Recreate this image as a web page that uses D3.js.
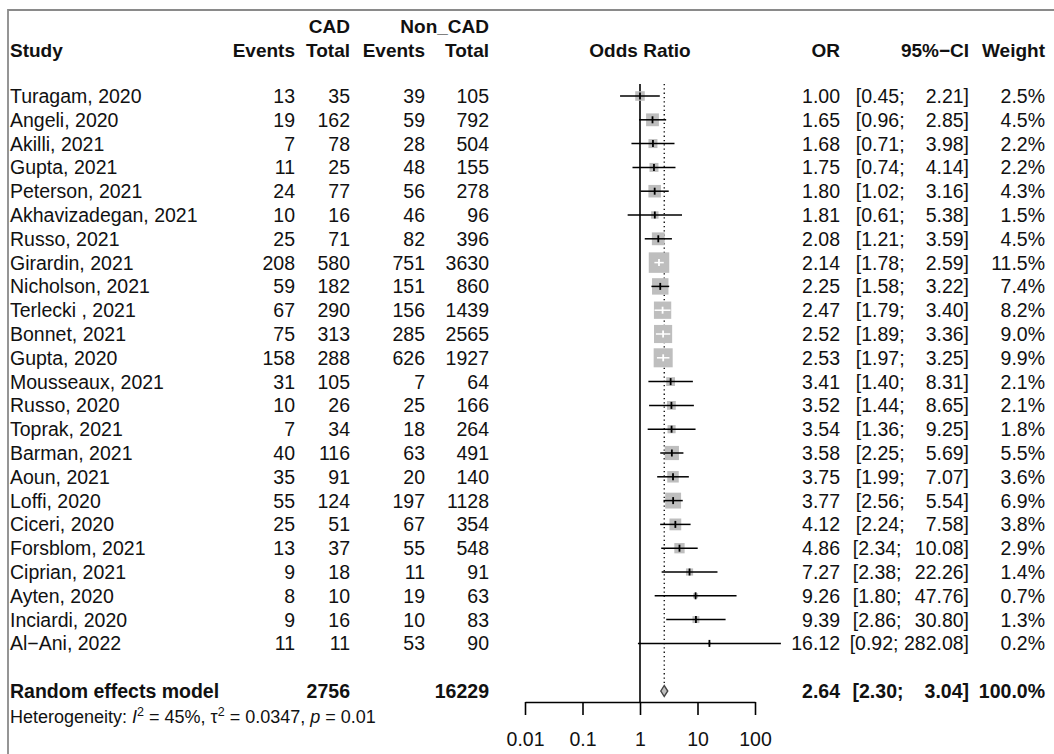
<!DOCTYPE html>
<html><head><meta charset="utf-8">
<script src="https://cdn.jsdelivr.net/npm/d3@7"></script>
<style>
html,body{margin:0;padding:0;background:#fff;}
text{font-family:"Liberation Sans",Arial,sans-serif;fill:#111;}
</style></head>
<body><svg id="chart" width="1054" height="754"></svg>
<script>
const studies = ["Turagam, 2020","Angeli, 2020","Akilli, 2021","Gupta, 2021","Peterson, 2021","Akhavizadegan, 2021","Russo, 2021","Girardin, 2021","Nicholson, 2021","Terlecki , 2021","Bonnet, 2021","Gupta, 2020","Mousseaux, 2021","Russo, 2020","Toprak, 2021","Barman, 2021","Aoun, 2021","Loffi, 2020","Ciceri, 2020","Forsblom, 2021","Ciprian, 2021","Ayten, 2020","Inciardi, 2020","Al\u2212Ani, 2022"];
const cadEvents = [13,19,7,11,24,10,25,208,59,67,75,158,31,10,7,40,35,55,25,13,9,8,9,11];
const cadTotal  = [35,162,78,25,77,16,71,580,182,290,313,288,105,26,34,116,91,124,51,37,18,10,16,11];
const nonEvents = [39,59,28,48,56,46,82,751,151,156,285,626,7,25,18,63,20,197,67,55,11,19,10,53];
const nonTotal  = [105,792,504,155,278,96,396,3630,860,1439,2565,1927,64,166,264,491,140,1128,354,548,91,63,83,90];
const orVals    = [1.00,1.65,1.68,1.75,1.80,1.81,2.08,2.14,2.25,2.47,2.52,2.53,3.41,3.52,3.54,3.58,3.75,3.77,4.12,4.86,7.27,9.26,9.39,16.12];
const ciLow     = [0.45,0.96,0.71,0.74,1.02,0.61,1.21,1.78,1.58,1.79,1.89,1.97,1.40,1.44,1.36,2.25,1.99,2.56,2.24,2.34,2.38,1.80,2.86,0.92];
const ciHigh    = [2.21,2.85,3.98,4.14,3.16,5.38,3.59,2.59,3.22,3.40,3.36,3.25,8.31,8.65,9.25,5.69,7.07,5.54,7.58,10.08,22.26,47.76,30.80,282.08];
const weights   = [2.5,4.5,2.2,2.2,4.3,1.5,4.5,11.5,7.4,8.2,9.0,9.9,2.1,2.1,1.8,5.5,3.6,6.9,3.8,2.9,1.4,0.7,1.3,0.2];
const pooledLabel = "Random effects model";
const pooledCadTotal = 2756;
const pooledNonTotal = 16229;
const pooledOR = 2.64, pooledLow = 2.30, pooledHigh = 3.04, pooledWeight = 100.0;
const tickValues = [0.01,0.1,1,10,100];
const tickLabels = ["0.01","0.1","1","10","100"];

const svg = d3.select("#chart");
svg.append("rect").attr("width",1054).attr("height",754).attr("fill","#fff");
// frame (top + left)
svg.append("path").attr("d","M8,754 L8,10 L1054,10").attr("fill","none").attr("stroke","#8a8a8a").attr("stroke-width",1.8);

const FS = 19.5, FH = 19;
const x = d3.scaleLog().domain([0.01,100]).range([525,755]);
const y = d3.scaleLinear().domain([0,studies.length-1]).range([96,643.4]);
const yPooled = 691;
const off = 7;

const col = {study:10, ev1:295, tot1:350, ev2:425, tot2:489, or:840, ci:969, w:1045};

function txt(xp, yp, s, anchor, bold, size){
  return svg.append("text").attr("x",xp).attr("y",yp).attr("text-anchor",anchor||"start")
    .attr("font-size",size||FS).attr("font-weight",bold?"bold":"normal").text(s);
}
// headers
txt(col.tot1,33,"CAD","end",true,FH);
txt(col.tot2,33,"Non_CAD","end",true,FH);
txt(col.study,57,"Study","start",true,FH);
txt(col.ev1,57,"Events","end",true,FH);
txt(col.tot1,57,"Total","end",true,FH);
txt(col.ev2,57,"Events","end",true,FH);
txt(col.tot2,57,"Total","end",true,FH);
txt(x(1),57,"Odds Ratio","middle",true,FH);
txt(col.or,57,"OR","end",true,FH);
txt(col.ci,57,"95%\u2212CI","end",true,FH);
txt(col.w,57,"Weight","end",true,FH);

const upW = d3.max(ciHigh.concat([pooledHigh]), v=>v.toFixed(2).length);
function ci(yy, lo, hi, bold){
  const h = hi.toFixed(2);
  const up = txt(col.ci, yy, h + "]", "end", bold);
  const wUp = up.node().getComputedTextLength();
  const gap = FS*0.28 + (upW - h.length)*FS*0.4;
  txt(col.ci - wUp - gap, yy, "[" + lo.toFixed(2) + ";", "end", bold);
}

studies.forEach((s,i)=>{
  const yy = y(i)+off;
  txt(col.study,yy,s);
  txt(col.ev1,yy,cadEvents[i],"end");
  txt(col.tot1,yy,cadTotal[i],"end");
  txt(col.ev2,yy,nonEvents[i],"end");
  txt(col.tot2,yy,nonTotal[i],"end");
  txt(col.or,yy,orVals[i].toFixed(2),"end");
  ci(yy, ciLow[i], ciHigh[i], false);
  txt(col.w,yy,weights[i].toFixed(1)+"%","end");
});
// pooled
txt(col.study,yPooled+off,pooledLabel,"start",true);
txt(col.tot1,yPooled+off,pooledCadTotal,"end",true);
txt(col.tot2,yPooled+off,pooledNonTotal,"end",true);
txt(col.or,yPooled+off,pooledOR.toFixed(2),"end",true);
ci(yPooled+off, pooledLow, pooledHigh, true);
txt(col.w,yPooled+off,pooledWeight.toFixed(1)+"%","end",true);

// heterogeneity
const het = svg.append("text").attr("x",col.study).attr("y",723).attr("font-size",18);
het.append("tspan").text("Heterogeneity: ");
het.append("tspan").attr("font-style","italic").text("I");
het.append("tspan").attr("font-size",12.5).attr("dy",-7).text("2");
het.append("tspan").attr("dy",7).text(" = 45%, \u03c4");
het.append("tspan").attr("font-size",12.5).attr("dy",-7).text("2");
het.append("tspan").attr("dy",7).text(" = 0.0347, ");
het.append("tspan").attr("font-style","italic").text("p");
het.append("tspan").text(" = 0.01");

// reference line at 1
svg.append("line").attr("x1",x(1)).attr("x2",x(1)).attr("y1",84).attr("y2",702)
  .attr("stroke","#000").attr("stroke-width",1.6);
// dotted pooled line
svg.append("line").attr("x1",x(pooledOR)).attr("x2",x(pooledOR)).attr("y1",84).attr("y2",yPooled-6)
  .attr("stroke","#000").attr("stroke-width",1.3).attr("stroke-dasharray","1.3,3");

// squares and CIs
const maxW = d3.max(weights);
const side = d3.scaleSqrt().domain([0,maxW]).range([0,20.5]);
const g = svg.append("g");
studies.forEach((s,i)=>{
  const cy = y(i), cx = x(orVals[i]), sz = side(weights[i]);
  g.append("rect").attr("x",cx-sz/2).attr("y",cy-sz/2).attr("width",sz).attr("height",sz).attr("fill","#bebebe");
  const inside = x(ciLow[i]) >= cx-sz/2 && x(ciHigh[i]) <= cx+sz/2;
  const c = inside ? "#fff" : "#000";
  g.append("line").attr("x1",x(ciLow[i])).attr("x2",x(ciHigh[i])).attr("y1",cy).attr("y2",cy)
    .attr("stroke",c).attr("stroke-width",1.5);
  g.append("line").attr("x1",cx).attr("x2",cx).attr("y1",cy-3.5).attr("y2",cy+3.5)
    .attr("stroke",c).attr("stroke-width",1.8);
});
// diamond
const dh = 5.5;
svg.append("path").attr("d",`M${x(pooledLow)},${yPooled} L${x(pooledOR)},${yPooled-dh} L${x(pooledHigh)},${yPooled} L${x(pooledOR)},${yPooled+dh} Z`)
  .attr("fill","#bebebe").attr("stroke","#444").attr("stroke-width",1.4);

// axis
const axisG = svg.append("g").attr("transform","translate(0,702)");
const axis = d3.axisBottom(x).tickValues(tickValues).tickFormat((d,i)=>tickLabels[i]).tickSize(13).tickSizeOuter(0).tickPadding(17);
axisG.call(axis);
axisG.select(".domain").attr("stroke","#000").attr("stroke-width",1.6);
axisG.selectAll(".tick line").attr("stroke","#000").attr("stroke-width",1.6);
axisG.selectAll(".tick text").attr("font-size",FS).attr("font-family","Liberation Sans, Arial, sans-serif").attr("fill","#111");
</script></body></html>
